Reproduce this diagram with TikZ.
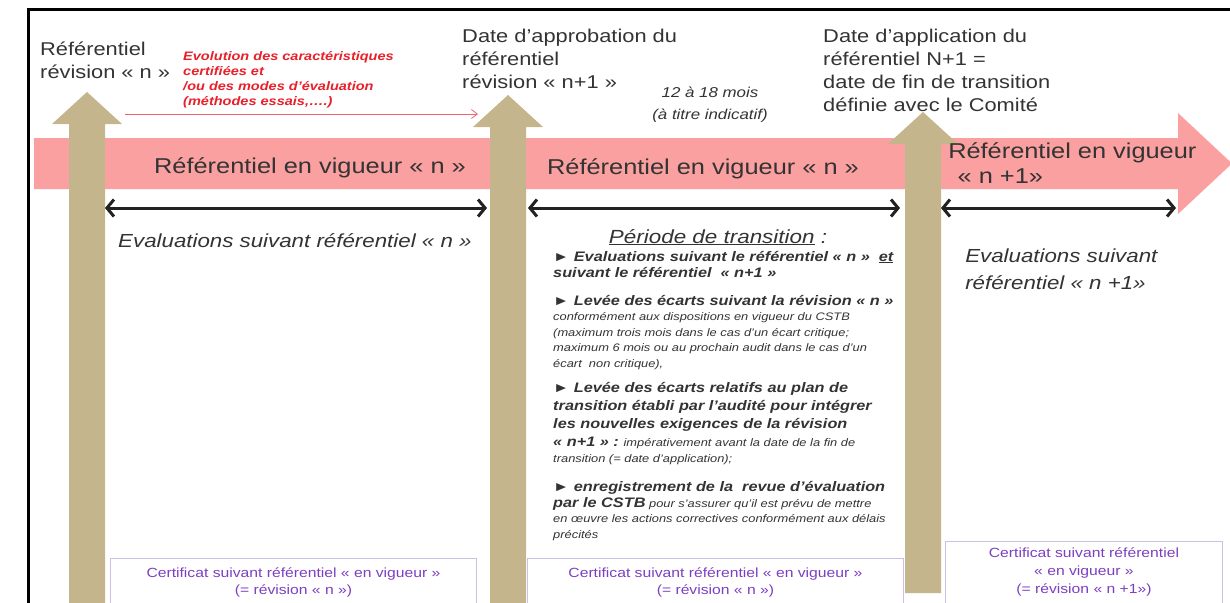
\documentclass[tikz,border=0pt]{standalone}
\usepackage{fontspec}
\setmainfont{Liberation Sans}
\usetikzlibrary{arrows.meta,positioning}

\definecolor{bandpink}{HTML}{FBA0A0}
\definecolor{pillarbrown}{HTML}{C4B58D}
\definecolor{textgray}{HTML}{333333}
\definecolor{spanblack}{HTML}{222222}
\definecolor{evored}{HTML}{E8202A}
\definecolor{certviolet}{HTML}{7B3FC0}
\definecolor{certframe}{HTML}{CDBFE6}

\newcommand{\bigbold}{\fontsize{13.8}{16}\selectfont\bfseries\itshape}
\newcommand{\smallit}{\fontsize{10.9}{15.5}\selectfont\itshape}
% vertical arrow: x, tip y, bottom y
\newcommand{\pillar}[3]{%
  \fill[pillarbrown] (#1-18,#3) -- (#1-18,#2+32) -- (#1-35,#2+32) -- (#1,#2)
    -- (#1+35,#2+32) -- (#1+18,#2+32) -- (#1+18,#3) -- cycle;}

\begin{document}
\begin{tikzpicture}[x=1pt, y=-1pt,
  wide/.style={xscale=1.18},
  head text/.style={wide, font=\fontsize{18.5}{22.5}\selectfont, text=textgray, align=left, anchor=base west, inner sep=0pt},
  band text/.style={wide, font=\fontsize{21.5}{25}\selectfont, text=textgray, align=left, inner sep=0pt},
  eval text/.style={wide, font=\fontsize{18.9}{27}\selectfont\itshape, text=textgray, align=left, anchor=base west, inner sep=0pt},
  evo text/.style={wide, font=\fontsize{12.3}{15}\selectfont\bfseries\itshape, text=evored, align=left, anchor=base west, inner sep=0pt},
  delay text/.style={wide, font=\fontsize{14.3}{22}\selectfont\itshape, text=textgray, align=center, anchor=base, inner sep=0pt},
  para/.style={wide, font=\smallit, text=textgray, align=left, anchor=base west, inner sep=0pt},
  cert box/.style={wide, draw=certframe, line width=0.8pt, text=certviolet, font=\fontsize{13.3}{17}\selectfont, align=center, anchor=north west, inner sep=0pt},
  span/.style={draw=spanblack, line width=3pt, {Straight Barb[length=7pt,width=17pt]}-{Straight Barb[length=7pt,width=17pt]}},
  evo arrow/.style={draw=evored!70, line width=0.8pt, -{Straight Barb[length=6pt,width=9pt]}}]

\useasboundingbox (0,0) rectangle (1230,602);
\clip (0,0) rectangle (1230,602);

% frame
\draw[line width=3pt] (28,606) -- (28,10) -- (1234,10);

% time band
\fill[bandpink] (34,138) -- (1178,138) -- (1178,113) -- (1232,163.5) -- (1178,214)
  -- (1178,189) -- (34,189) -- cycle;

% milestones
\pillar{87}{92}{606}
\pillar{508}{95}{606}
\pillar{923}{112}{593}

% texts above (base = last line)
\node[head text] (refn) at (40,78) {Référentiel\\révision « n »};
\node[evo text] (evo) at (183,105) {Evolution des caractéristiques\\certifiées et\\/ou des modes d’évaluation\\(méthodes essais,….)};
\coordinate (evo start) at (125,114);
\coordinate (evo end) at (478,114);
\draw[evo arrow] (evo start) -- (evo end);

\node[head text] (approb) at (462,88) {Date d’approbation du\\référentiel\\révision « n+1 »};
\node[delay text] (delay) at (710,119) {12 à 18 mois\\(à titre indicatif)};
\node[head text, font=\fontsize{18.5}{23}\selectfont] (applic) at (823,111) {Date d’application du\\référentiel N+1 =\\date de fin de transition\\définie avec le Comité};

% band labels
\node[band text, anchor=base] (band1) at (310,173) {Référentiel en vigueur « n »};
\node[band text, anchor=base] (band2) at (703,174) {Référentiel en vigueur « n »};
\node[band text, anchor=base west] (band3) at (948,183) {Référentiel en vigueur\\\hspace{8pt}« n +1»};

% periods
\coordinate (s1a) at (105,208);
\coordinate (s1b) at (487,208);
\coordinate (s2a) at (528,208);
\coordinate (s2b) at (900,208);
\coordinate (s3a) at (941,208);
\coordinate (s3b) at (1176,208);
\draw[span] (s1a) -- (s1b);
\draw[span] (s2a) -- (s2b);
\draw[span] (s3a) -- (s3b);

\node[eval text] (eval1) at (118,247) {Evaluations suivant référentiel « n »};
\node[eval text] (eval3) at (965,289) {Evaluations suivant\\référentiel « n +1»};

% transition
\node[wide, font=\fontsize{19}{24}\selectfont\itshape, text=textgray, inner sep=0pt, anchor=base] (trans) at (718,243) {\underline{Période de transition} :};
\node[para] (tr1) at (553,277) {{\bigbold ► Evaluations suivant le référentiel « n »~ \underline{et}}\\[0.5pt]{\bigbold suivant le référentiel ~« n+1 »}};
\node[para] (tr2) at (553,367) {{\bigbold ► Levée des écarts suivant la révision « n »}\\conformément aux dispositions en vigueur du CSTB\\(maximum trois mois dans le cas d’un écart critique;\\maximum 6 mois ou au prochain audit dans le cas d’un\\écart ~non critique),};
\node[para] (tr3) at (553,462) {{\bigbold ► Levée des écarts relatifs au plan de}\\[2.5pt]{\bigbold transition établi par l'audité pour intégrer}\\[2.5pt]{\bigbold les nouvelles exigences de la révision}\\[2.5pt]{\bigbold « n+1 » :} impérativement avant la date de la fin de\\[0.5pt]transition (= date d’application);};
\node[para] (tr4) at (553,538) {{\bigbold ► enregistrement de la ~revue d’évaluation}\\[0.5pt]{\bigbold par le CSTB} pour s’assurer qu’il est prévu de mettre\\en œuvre les actions correctives conformément aux délais\\précités};

% certificates
\node[cert box, minimum width=310.2, minimum height=48] (cert1) at (110,558) {Certificat suivant référentiel « en vigueur »\\(= révision « n »)};
\node[cert box, minimum width=318.6, minimum height=48] (cert2) at (527,558) {Certificat suivant référentiel « en vigueur »\\(= révision « n »)};
\node[cert box, minimum width=234.7, minimum height=62, font=\fontsize{13.3}{18}\selectfont] (cert3) at (945,541) {Certificat suivant référentiel\\« en vigueur »\\(= révision « n +1»)};

\end{tikzpicture}
\end{document}
